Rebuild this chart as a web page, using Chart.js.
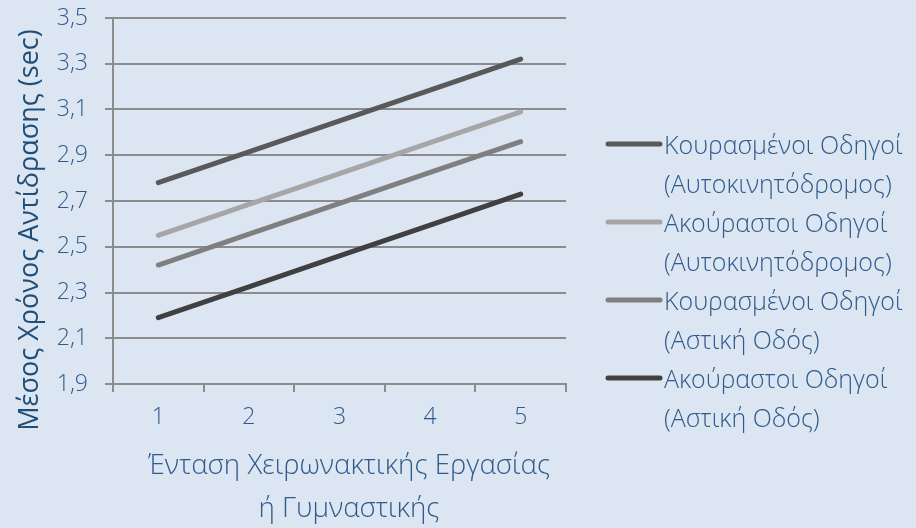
<!DOCTYPE html>
<html lang="el">
<head>
<meta charset="UTF-8">
<title>Μέσος Χρόνος Αντίδρασης</title>
<script src="https://cdn.jsdelivr.net/npm/chart.js"></script>
<style>
    html, body {
        margin: 0;
        padding: 0;
        background: #dce6f2;
    }
    #wrap {
        width: 916px;
        height: 528px;
    }
</style>
</head>
<body>
<div id="wrap">
    <canvas id="chartCanvas" width="916" height="528"></canvas>
</div>
<script>
    // δεδομένα
    const categories = ['1', '2', '3', '4', '5'];
    const seriesNames = [
        ['Κουρασμένοι Οδηγοί', '(Αυτοκινητόδρομος)'],
        ['Ακούραστοι Οδηγοί', '(Αυτοκινητόδρομος)'],
        ['Κουρασμένοι Οδηγοί', '(Αστική Οδός)'],
        ['Ακούραστοι Οδηγοί', '(Αστική Οδός)']
    ];
    const tiredHighway = [2.78, 2.915, 3.05, 3.185, 3.32];
    const restedHighway = [2.55, 2.685, 2.82, 2.955, 3.09];
    const tiredCity = [2.42, 2.555, 2.69, 2.825, 2.96];
    const restedCity = [2.19, 2.325, 2.46, 2.595, 2.73];
    const yTitle = 'Μέσος Χρόνος Αντίδρασης (sec)';
    const xTitle = ['Ένταση Χειρωνακτικής Εργασίας', 'ή Γυμναστικής'];

    const colors = ['#595959', '#a6a6a6', '#7f7f7f', '#404040'];
    const textColor = '#2f5a8c';
    const fontFamily = '"Open Sans", "Noto Sans", sans-serif';

    // τίτλοι αξόνων και υπόμνημα
    const customDraw = {
        id: 'customDraw',
        afterDraw(chart) {
            const ctx = chart.ctx;
            ctx.save();

            // y τίτλος
            ctx.fillStyle = '#1f4e79';
            ctx.font = '400 27px ' + fontFamily;
            ctx.textAlign = 'center';
            ctx.textBaseline = 'middle';
            ctx.translate(30, 230);
            ctx.rotate(-Math.PI / 2);
            ctx.fillText(yTitle, 0, 0);
            ctx.setTransform(1, 0, 0, 1, 0, 0);

            // x τίτλος
            ctx.fillStyle = textColor;
            ctx.font = '300 27.7px ' + fontFamily;
            ctx.fillText(xTitle[0], 349, 466);
            ctx.fillText(xTitle[1], 349, 509);

            // υπόμνημα
            ctx.textAlign = 'left';
            ctx.font = '300 25px ' + fontFamily;
            chart.data.datasets.forEach((ds, i) => {
                const y0 = 144 + i * 78;
                ctx.strokeStyle = ds.borderColor;
                ctx.lineWidth = 5;
                ctx.lineCap = 'round';
                ctx.beginPath();
                ctx.moveTo(608, y0);
                ctx.lineTo(660, y0);
                ctx.stroke();
                ctx.fillStyle = textColor;
                ds.label.forEach((line, j) => {
                    ctx.fillText(line, 664, y0 + 3 + j * 39);
                });
            });
            ctx.restore();
        }
    };

    const datasets = [tiredHighway, restedHighway, tiredCity, restedCity].map((vals, i) => ({
        label: seriesNames[i],
        data: vals,
        borderColor: colors[i],
        backgroundColor: colors[i],
        borderWidth: 5,
        borderCapStyle: 'round',
        pointRadius: 0,
        pointHoverRadius: 0,
        tension: 0,
        fill: false
    }));

    new Chart(document.getElementById('chartCanvas'), {
        type: 'line',
        data: {
            labels: categories,
            datasets: datasets
        },
        options: {
            responsive: false,
            animation: false,
            layout: {
                padding: { left: 0, right: 350, top: 18, bottom: 0 }
            },
            plugins: {
                legend: { display: false },
                tooltip: { enabled: false }
            },
            scales: {
                x: {
                    type: 'category',
                    offset: true,
                    afterFit: (scale) => { scale.height = 144; },
                    grid: {
                        offset: true,
                        drawOnChartArea: false,
                        color: '#8c8c8c',
                        lineWidth: 2,
                        tickLength: 8
                    },
                    border: { color: '#8c8c8c', width: 2 },
                    ticks: {
                        color: textColor,
                        padding: 12,
                        maxRotation: 0,
                        font: { family: fontFamily, size: 23, weight: '300' }
                    }
                },
                y: {
                    min: 1.9,
                    max: 3.5,
                    afterFit: (scale) => {
                        scale.width = 113;
                        scale.paddingTop = 0;
                        scale.paddingBottom = 0;
                    },
                    grid: {
                        color: '#8c8c8c',
                        lineWidth: 2,
                        tickLength: 8
                    },
                    border: { color: '#8c8c8c', width: 2 },
                    ticks: {
                        stepSize: 0.2,
                        color: textColor,
                        padding: 17,
                        font: { family: fontFamily, size: 23, weight: '300' },
                        callback: (v) => Number(v).toFixed(1).replace('.', ',')
                    }
                }
            }
        },
        plugins: [customDraw]
    });
</script>
</body>
</html>
